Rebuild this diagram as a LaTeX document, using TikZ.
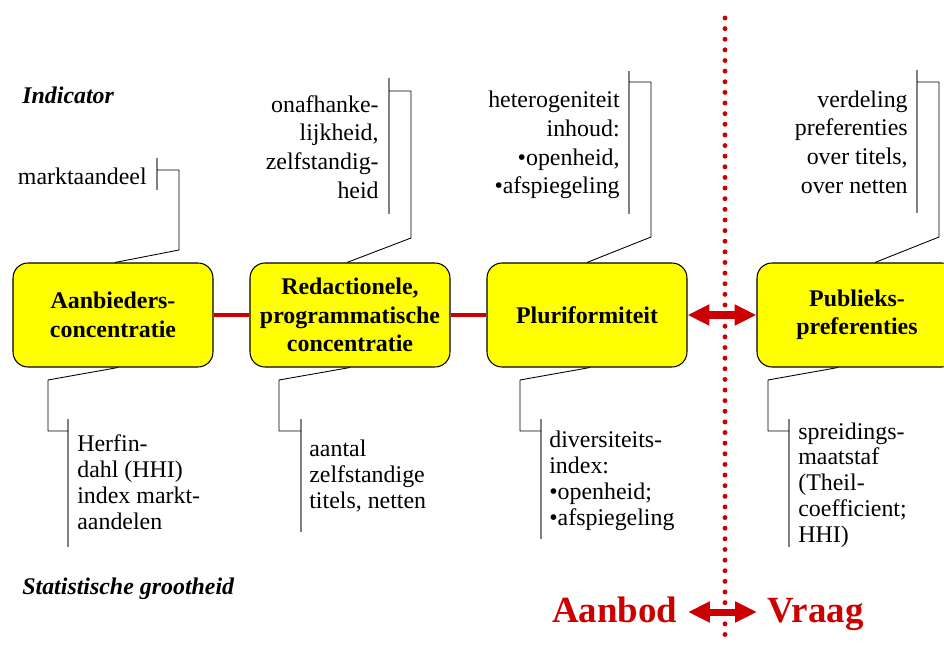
\documentclass[tikz,border=0pt]{standalone}
\usepackage{fontspec}
\setmainfont{Liberation Serif}
\usetikzlibrary{arrows.meta,calc}

\definecolor{donkerrood}{RGB}{204,0,0}
\definecolor{geel}{RGB}{255,255,0}

\begin{document}
\begin{tikzpicture}[
		% stijlen, zodat de code kort blijft
		blok/.style={draw=black, line width=0.6pt, fill=geel, rounded corners=0.3cm, minimum width=4cm, minimum height=2.08cm, align=center, inner sep=1pt, font=\fontsize{13.6}{16.2}\selectfont\bfseries}, % gele blokken
		boven/.style={anchor=east, align=right, inner sep=0pt, font=\fontsize{13.6}{16.3}\selectfont}, % tekst boven (indicator)
		onder/.style={anchor=west, align=left, inner sep=0pt, font=\fontsize{13.6}{14.7}\selectfont}, % tekst onder (grootheid)
		kop/.style={anchor=base west, inner sep=0pt, font=\fontsize{13.6}{16}\selectfont\bfseries\itshape},
		balk/.style={draw=gray, line width=1.1pt}, % grijze balk naast de tekst
		leider/.style={draw=black, line width=0.5pt},
		rood/.style={draw=donkerrood, line width=2pt},
		pijl/.style={draw=donkerrood, line width=4pt, {Triangle[length=12.5pt,width=11.3pt]}-{Triangle[length=12.5pt,width=11.3pt]}},
		stippel/.style={draw=donkerrood, line width=2.8pt, line cap=round, dash pattern=on 0pt off 6.05pt},
		groot/.style={inner ysep=0pt, inner xsep=6pt, text=donkerrood, font=\fontsize{21}{24}\selectfont\bfseries}
		,line join=round,x=0.02cm,y=-0.02cm]
		\useasboundingbox (0,0) rectangle (944,645);

		% scheiding aanbod / vraag
		\coordinate (scheidtop) at (725,18);
		\coordinate (scheidbodem) at (725,645);
		\draw[stippel] (scheidtop) -- (scheidbodem);

		% de vier blokken
		\node[blok] (b1) at (113,315) {Aanbieders-\\concentratie};
		\node[blok] (b2) at (350,315) {Redactionele,\\programmatische\\concentratie};
		\node[blok] (b3) at (587,315) {Pluriformiteit};
		\node[blok] (b4) at (857,315) {Publieks-\\preferenties};

		\draw[rood] (b1.east) -- (b2.west);
		\draw[rood] (b2.east) -- (b3.west);
		\draw[pijl] (b3.east) -- (b4.west);

		% koppen
		\node[kop] (indicator) at (22,104) {Indicator};
		\node[kop] (grootheid) at (22,594) {Statistische grootheid};

		% indicatoren (boven)
		\node[boven] (t1) at (147,176) {marktaandeel};
		\node[boven] (t2) at (379,147) {onafhanke-\\lijkheid,\\zelfstandig-\\heid};
		\node[boven] (t3) at (620,145) {heterogeniteit\\inhoud:\\•openheid,\\•afspiegeling};
		\node[boven] (t4) at (908,142) {verdeling\\preferenties\\over titels,\\over netten};

		% statistische grootheden (onder)
		\node[onder] (t5) at (77,482) {Herfin-\\dahl (HHI)\\index markt-\\aandelen};
		\node[onder] (t6) at (309,476) {aantal\\zelfstandige\\titels, netten};
		\node[onder] (t7) at (549,481) {diversiteits-\\index:\\•openheid;\\•afspiegeling};
		\node[onder] (t8) at (798,485) {spreidings-\\maatstaf\\(Theil-\\coefficient;\\HHI)};

		% balken
		\draw[balk] (157,158) -- (157,190);
		\draw[balk] (389,78) -- (389,214);
		\draw[balk] (629,71) -- (629,214);
		\draw[balk] (917,70) -- (917,213);
		\draw[balk] (68,419) -- (68,547);
		\draw[balk] (301,419) -- (301,532);
		\draw[balk] (541,419) -- (541,539);
		\draw[balk] (789,419) -- (789,547);

		% aanhechtpunten op de balken
		\coordinate (k1) at (157,170);
		\coordinate (k2) at (389,91);
		\coordinate (k3) at (629,82);
		\coordinate (k4) at (917,82);
		\coordinate (k5) at (68,431);
		\coordinate (k6) at (301,431);
		\coordinate (k7) at (541,431);
		\coordinate (k8) at (789,431);

		% leiders van blok naar balk
		\draw[leider] ($(b1.north)+(2,0)$) -- (179,250) |- (k1);
		\draw[leider] ($(b2.north)+(-3,0)$) -- (411,238) |- (k2);
		\draw[leider] (b3.north) -- (651,237) |- (k3);
		\draw[leider] ($(b4.north)+(18,0)$) -- (939,237) |- (k4);
		\draw[leider] ($(b1.south)+(5,0)$) -- (48,380) |- (k5);
		\draw[leider] (b2.south) -- (279,380) |- (k6);
		\draw[leider] ($(b3.south)+(3,0)$) -- (520,380) |- (k7);
		\draw[leider] ($(b4.south)+(-19,0)$) -- (768,380) |- (k8);

		% Aanbod <-> Vraag
		\node[groot, anchor=base east] (aanbod) at (688,622) {Aanbod};
		\node[groot, anchor=base west] (vraag) at (757,622) {Vraag};
		\draw[pijl] ([yshift=-1.5pt]aanbod.east) -- ([yshift=-1.5pt]aanbod.east -| vraag.west);

	\end{tikzpicture}
\end{document}
